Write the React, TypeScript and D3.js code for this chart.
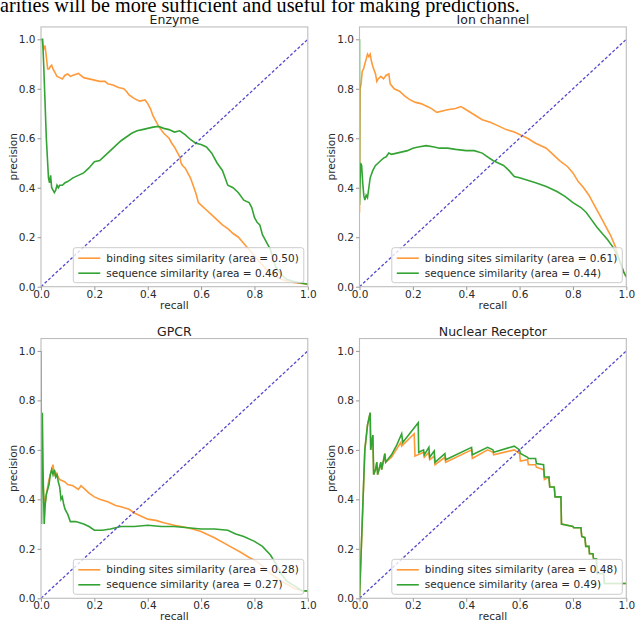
import * as d3 from "d3";
import { useEffect, useRef } from "react";

type Pt = [number, number];

const headerText = "arities will be more sufficient and useful for making predictions.";
const panelTitles = ["Enzyme", "Ion channel", "GPCR", "Nuclear Receptor"];
const seriesNames = ["binding sites similarity", "sequence similarity"];
const bindingAreas = [0.5, 0.61, 0.28, 0.48];
const sequenceAreas = [0.46, 0.44, 0.27, 0.49];
const xTicks = [0, 0.2, 0.4, 0.6, 0.8, 1.0];
const yTicks = [0, 0.2, 0.4, 0.6, 0.8, 1.0];

const enzymeBinding: Pt[] = [[0,1.0],[0.005,0.99],[0.01,0.96],[0.015,0.975],[0.02,0.93],[0.025,0.88],[0.03,0.88],[0.035,0.89],[0.04,0.895],[0.045,0.88],[0.05,0.87],[0.06,0.85],[0.07,0.845],[0.08,0.84],[0.09,0.855],[0.1,0.86],[0.11,0.85],[0.12,0.855],[0.14,0.862],[0.16,0.845],[0.18,0.84],[0.2,0.835],[0.22,0.83],[0.24,0.83],[0.25,0.82],[0.27,0.815],[0.29,0.805],[0.31,0.8],[0.32,0.79],[0.33,0.775],[0.35,0.76],[0.37,0.75],[0.39,0.755],[0.4,0.74],[0.41,0.72],[0.42,0.69],[0.43,0.67],[0.44,0.65],[0.45,0.635],[0.46,0.62],[0.48,0.6],[0.49,0.58],[0.5,0.565],[0.51,0.545],[0.52,0.525],[0.525,0.5],[0.53,0.49],[0.54,0.48],[0.55,0.46],[0.56,0.44],[0.57,0.41],[0.58,0.38],[0.59,0.34],[0.6,0.33],[0.62,0.31],[0.64,0.29],[0.66,0.27],[0.68,0.25],[0.7,0.235],[0.72,0.215],[0.74,0.2],[0.76,0.175],[0.78,0.15],[0.8,0.125],[0.82,0.1],[0.84,0.075],[0.86,0.055],[0.88,0.04],[0.9,0.03],[0.93,0.02],[0.96,0.015],[1.0,0.01]];
const enzymeSequence: Pt[] = [[0,1.0],[0.006,1.0],[0.01,0.9],[0.015,0.75],[0.02,0.6],[0.025,0.5],[0.028,0.44],[0.032,0.42],[0.036,0.45],[0.04,0.4],[0.045,0.39],[0.05,0.38],[0.055,0.39],[0.06,0.41],[0.065,0.4],[0.07,0.41],[0.08,0.41],[0.09,0.42],[0.1,0.425],[0.12,0.44],[0.14,0.45],[0.16,0.46],[0.18,0.48],[0.2,0.505],[0.22,0.51],[0.24,0.53],[0.26,0.55],[0.28,0.57],[0.3,0.59],[0.32,0.605],[0.34,0.62],[0.36,0.63],[0.38,0.635],[0.4,0.64],[0.42,0.645],[0.44,0.648],[0.46,0.64],[0.48,0.635],[0.5,0.625],[0.52,0.63],[0.54,0.615],[0.56,0.595],[0.58,0.58],[0.6,0.575],[0.62,0.565],[0.64,0.54],[0.66,0.5],[0.68,0.47],[0.69,0.44],[0.7,0.41],[0.72,0.4],[0.74,0.38],[0.76,0.35],[0.78,0.34],[0.79,0.32],[0.8,0.28],[0.81,0.26],[0.82,0.25],[0.83,0.21],[0.84,0.19],[0.85,0.17],[0.86,0.15],[0.87,0.11],[0.88,0.08],[0.9,0.05],[0.92,0.03],[0.95,0.02],[1.0,0.01]];

const ionBinding: Pt[] = [[0,0.3],[0.002,0.8],[0.006,0.82],[0.01,0.87],[0.015,0.88],[0.02,0.9],[0.025,0.92],[0.03,0.94],[0.035,0.93],[0.04,0.94],[0.045,0.91],[0.05,0.89],[0.06,0.86],[0.065,0.83],[0.07,0.84],[0.08,0.85],[0.09,0.84],[0.1,0.855],[0.11,0.86],[0.115,0.82],[0.13,0.8],[0.15,0.79],[0.17,0.77],[0.19,0.755],[0.21,0.745],[0.23,0.74],[0.25,0.73],[0.27,0.72],[0.29,0.705],[0.31,0.71],[0.33,0.715],[0.36,0.72],[0.38,0.728],[0.4,0.715],[0.43,0.695],[0.46,0.675],[0.49,0.665],[0.52,0.65],[0.55,0.635],[0.58,0.625],[0.6,0.615],[0.63,0.6],[0.66,0.58],[0.7,0.56],[0.72,0.54],[0.75,0.51],[0.78,0.485],[0.8,0.46],[0.82,0.425],[0.84,0.4],[0.86,0.37],[0.88,0.33],[0.9,0.29],[0.92,0.25],[0.94,0.21],[0.96,0.16],[0.97,0.12],[0.98,0.09],[0.99,0.06],[1.0,0.04]];
const ionSequence: Pt[] = [[0,1.0],[0,0.33],[0.004,0.5],[0.008,0.49],[0.012,0.42],[0.016,0.37],[0.02,0.35],[0.025,0.37],[0.03,0.36],[0.035,0.4],[0.04,0.44],[0.05,0.47],[0.06,0.49],[0.07,0.5],[0.08,0.51],[0.09,0.52],[0.1,0.525],[0.11,0.54],[0.12,0.535],[0.14,0.54],[0.16,0.545],[0.18,0.55],[0.2,0.56],[0.22,0.565],[0.25,0.57],[0.28,0.565],[0.3,0.56],[0.33,0.56],[0.36,0.555],[0.4,0.55],[0.43,0.55],[0.46,0.54],[0.48,0.525],[0.5,0.51],[0.52,0.5],[0.54,0.49],[0.56,0.47],[0.58,0.445],[0.6,0.44],[0.63,0.43],[0.66,0.42],[0.7,0.405],[0.74,0.385],[0.77,0.365],[0.8,0.34],[0.83,0.32],[0.85,0.3],[0.87,0.27],[0.89,0.24],[0.91,0.215],[0.93,0.19],[0.95,0.16],[0.97,0.12],[0.99,0.06],[1.0,0.04]];

const gpcrBinding: Pt[] = [[0,0.58],[0.003,0.55],[0.006,0.5],[0.01,0.42],[0.015,0.38],[0.02,0.42],[0.025,0.45],[0.03,0.48],[0.035,0.5],[0.04,0.52],[0.045,0.54],[0.05,0.5],[0.055,0.51],[0.06,0.5],[0.07,0.48],[0.08,0.475],[0.09,0.47],[0.1,0.46],[0.12,0.455],[0.14,0.44],[0.15,0.455],[0.16,0.445],[0.18,0.425],[0.2,0.41],[0.22,0.4],[0.25,0.39],[0.28,0.375],[0.3,0.37],[0.33,0.36],[0.35,0.345],[0.38,0.33],[0.4,0.32],[0.43,0.315],[0.46,0.305],[0.5,0.295],[0.55,0.285],[0.6,0.27],[0.65,0.245],[0.7,0.215],[0.75,0.185],[0.78,0.165],[0.8,0.155],[0.83,0.13],[0.86,0.1],[0.9,0.07],[0.95,0.04],[0.98,0.03],[1.0,0.03]];
const gpcrSequence: Pt[] = [[0,1.0],[0.002,0.3],[0.005,0.75],[0.008,0.5],[0.012,0.3],[0.016,0.38],[0.02,0.42],[0.025,0.44],[0.03,0.46],[0.035,0.5],[0.04,0.52],[0.045,0.5],[0.05,0.52],[0.055,0.49],[0.06,0.5],[0.065,0.47],[0.07,0.45],[0.075,0.4],[0.08,0.41],[0.085,0.38],[0.09,0.36],[0.1,0.34],[0.11,0.31],[0.13,0.31],[0.16,0.3],[0.18,0.29],[0.2,0.275],[0.23,0.275],[0.26,0.28],[0.3,0.29],[0.35,0.29],[0.4,0.295],[0.45,0.29],[0.5,0.29],[0.55,0.285],[0.6,0.28],[0.65,0.28],[0.7,0.275],[0.73,0.26],[0.76,0.25],[0.8,0.23],[0.83,0.21],[0.86,0.175],[0.88,0.14],[0.9,0.1],[0.92,0.07],[0.95,0.05],[0.98,0.03],[1.0,0.03]];

const nuclearBinding: Pt[] = [[0,0],[0.01,0.3],[0.02,0.6],[0.03,0.7],[0.04,0.75],[0.042,0.6],[0.05,0.66],[0.053,0.5],[0.06,0.52],[0.065,0.55],[0.068,0.5],[0.08,0.55],[0.083,0.52],[0.095,0.585],[0.098,0.55],[0.12,0.57],[0.155,0.63],[0.158,0.615],[0.205,0.665],[0.208,0.575],[0.24,0.59],[0.243,0.57],[0.26,0.59],[0.263,0.56],[0.28,0.575],[0.283,0.54],[0.32,0.57],[0.323,0.55],[0.42,0.6],[0.423,0.565],[0.48,0.6],[0.5,0.59],[0.503,0.58],[0.58,0.6],[0.6,0.585],[0.603,0.555],[0.63,0.56],[0.633,0.54],[0.66,0.54],[0.663,0.53],[0.69,0.52],[0.693,0.48],[0.71,0.49],[0.713,0.45],[0.73,0.45],[0.733,0.41],[0.755,0.41],[0.757,0.3],[0.8,0.29],[0.803,0.285],[0.83,0.285],[0.833,0.25],[0.845,0.245],[0.848,0.21],[0.86,0.21],[0.862,0.18],[0.875,0.18],[0.877,0.16],[0.888,0.16],[0.89,0.1],[0.915,0.1],[0.918,0.06],[1.0,0.06]];
const nuclearSequence: Pt[] = [[0,0],[0.01,0.3],[0.02,0.6],[0.03,0.7],[0.04,0.75],[0.042,0.6],[0.05,0.66],[0.053,0.5],[0.06,0.52],[0.065,0.55],[0.068,0.5],[0.08,0.55],[0.083,0.52],[0.095,0.585],[0.098,0.55],[0.12,0.58],[0.14,0.62],[0.158,0.665],[0.162,0.63],[0.22,0.71],[0.222,0.59],[0.24,0.6],[0.243,0.58],[0.26,0.61],[0.263,0.57],[0.28,0.595],[0.283,0.55],[0.32,0.585],[0.323,0.56],[0.42,0.61],[0.423,0.58],[0.48,0.61],[0.5,0.6],[0.503,0.59],[0.58,0.615],[0.6,0.6],[0.603,0.585],[0.63,0.57],[0.633,0.565],[0.66,0.565],[0.663,0.545],[0.69,0.54],[0.693,0.49],[0.71,0.49],[0.713,0.45],[0.73,0.45],[0.733,0.41],[0.755,0.41],[0.757,0.3],[0.8,0.29],[0.803,0.285],[0.83,0.285],[0.833,0.25],[0.845,0.245],[0.848,0.21],[0.86,0.21],[0.862,0.18],[0.875,0.18],[0.877,0.16],[0.888,0.16],[0.89,0.1],[0.915,0.1],[0.918,0.06],[1.0,0.06]];

const bindingCurves = [enzymeBinding, ionBinding, gpcrBinding, nuclearBinding];
const sequenceCurves = [enzymeSequence, ionSequence, gpcrSequence, nuclearSequence];

export default function App() {
  const ref = useRef<SVGSVGElement>(null);

  useEffect(() => {
    const svg = d3.select(ref.current);
    svg.selectAll("*").remove();
    const font = "'DejaVu Sans', sans-serif";
    const orange = "#ff9a3a", green = "#33a433";

    svg.append("text")
      .attr("x", 0).attr("y", 11.5)
      .style("font-family", "'Liberation Serif', serif")
      .style("font-size", "20.2px")
      .attr("fill", "#000")
      .text(headerText);

    const colX = [41, 359.5];
    const rowY = [286.7, 598.3];
    const pw = 266.8, unit = 247.4;

    panelTitles.forEach((title, i) => {
      const x0 = colX[i % 2];
      const yb = rowY[Math.floor(i / 2)];
      const x = d3.scaleLinear().domain([0, 1]).range([x0, x0 + pw]);
      const y = d3.scaleLinear().domain([0, 1.05]).range([yb, yb - unit * 1.05]);
      const top = y(1.05);

      const g = svg.append("g");
      const clipId = "clip" + i;
      g.append("clipPath").attr("id", clipId)
        .append("rect").attr("x", x0).attr("y", top).attr("width", pw).attr("height", yb - top);

      const line = d3.line<Pt>().x(d => x(d[0])).y(d => y(d[1]));
      const plot = g.append("g").attr("clip-path", `url(#${clipId})`);
      plot.append("path").attr("d", line(bindingCurves[i]))
        .attr("fill", "none").attr("stroke", orange).attr("stroke-width", 1.6);
      plot.append("path").attr("d", line(sequenceCurves[i]))
        .attr("fill", "none").attr("stroke", green).attr("stroke-width", 1.6);
      plot.append("path").attr("d", line([[0, 0], [1, 1]]))
        .attr("fill", "none").attr("stroke", "#5448cc").attr("stroke-width", 1.3)
        .attr("stroke-dasharray", "3,2");

      // frame
      g.append("rect").attr("x", x0).attr("y", top).attr("width", pw).attr("height", yb - top)
        .attr("fill", "none").attr("stroke", "#bdbdbd").attr("stroke-width", 1.1);

      const xa = g.append("g").attr("transform", `translate(0,${yb})`)
        .call(d3.axisBottom(x).tickValues(xTicks).tickSize(3.5).tickPadding(0).tickFormat(d3.format(".1f")));
      const ya = g.append("g").attr("transform", `translate(${x0},0)`)
        .call(d3.axisLeft(y).tickValues(yTicks).tickSize(3.5).tickPadding(2).tickFormat(d3.format(".1f")));
      [xa, ya].forEach(a => {
        a.select(".domain").remove();
        a.selectAll("line").attr("stroke", "#999");
        a.selectAll("text").attr("fill", "#2a2a2a").style("font-family", font).style("font-size", "10.5px");
      });

      g.append("text").attr("x", x0 + pw / 2).attr("y", top - 2.6)
        .attr("text-anchor", "middle").attr("fill", "#222")
        .style("font-family", font).style("font-size", "12.5px").text(title);
      g.append("text").attr("x", x0 + pw / 2).attr("y", yb + 22)
        .attr("text-anchor", "middle").attr("fill", "#2a2a2a")
        .style("font-family", font).style("font-size", "10.5px").text("recall");
      g.append("text")
        .attr("transform", `translate(${x0 - 28},${(top + yb) / 2}) rotate(-90)`)
        .attr("text-anchor", "middle").attr("dy", "0.35em").attr("fill", "#2a2a2a")
        .style("font-family", font).style("font-size", "10.5px").text("precision");

      // legend
      const labels = [
        `${seriesNames[0]} (area = ${bindingAreas[i].toFixed(2)})`,
        `${seriesNames[1]} (area = ${sequenceAreas[i].toFixed(2)})`,
      ];
      const leg = g.append("g");
      const box = leg.append("rect");
      const texts = labels.map((t, k) => leg.append("text")
        .attr("y", 10.5 + k * 15).attr("dy", "0.35em").attr("fill", "#2a2a2a")
        .style("font-family", font).style("font-size", "10.5px").text(t));
      const tw = d3.max(texts, t => (t.node() as SVGTextElement).getComputedTextLength()) || 0;
      const lw = 33 + tw + 5, lh = 35;
      const lx = x0 + pw - 4 - lw, ly = yb - 4 - lh;
      leg.attr("transform", `translate(${lx},${ly})`);
      box.attr("width", lw).attr("height", lh).attr("rx", 2.5)
        .attr("fill", "#fff").attr("fill-opacity", 0.8).attr("stroke", "#cccccc");
      texts.forEach(t => t.attr("x", 33));
      [orange, green].forEach((c, k) => leg.append("line")
        .attr("x1", 5).attr("x2", 27).attr("y1", 10.5 + k * 15).attr("y2", 10.5 + k * 15)
        .attr("stroke", c).attr("stroke-width", 1.6));
    });
  }, []);

  return (
    <svg ref={ref} width={635} height={620}
      style={{ position: "absolute", left: 0, top: 0, background: "#fff" }} />
  );
}
